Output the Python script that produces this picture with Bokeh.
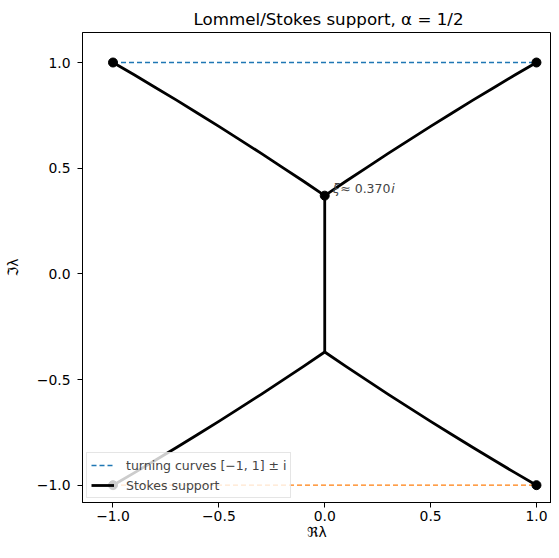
import math
from bokeh.plotting import figure
from bokeh.models import (Range1d, Legend, LegendItem, FixedTicker, Label,
                          CustomJSTickFormatter)
from bokeh.embed import file_html
from bokeh.resources import INLINE

# ---- data ----
xi_im = 0.370
turn_x = [-1.0, 1.0]
turn_upper_y = [1.0, 1.0]
turn_lower_y = [-1.0, -1.0]

branch_x = [0.0, 0.1, 0.2, 0.3, 0.4, 0.5, 0.6, 0.7, 0.8, 0.9, 1.0]
branch_y = [0.370, 0.438, 0.504, 0.570, 0.634, 0.698, 0.760, 0.822, 0.882, 0.942, 1.0]

stem_x = [0.0, 0.0]
stem_y = [-0.370, 0.370]

pts_x = [-1.0, 1.0, 0.0, -1.0, 1.0]
pts_y = [1.0, 1.0, 0.370, -1.0, -1.0]

ticks = [-1.0, -0.5, 0.0, 0.5, 1.0]

# ---- figure ----
p = figure(width=551, height=542, output_backend="svg", toolbar_location=None,
           x_range=Range1d(-1.144, 1.071), y_range=Range1d(-1.082, 1.142),
           min_border_left=82, min_border_right=0, min_border_top=32,
           min_border_bottom=40,
           title="Lommel/Stokes support, α = 1/2")
p.background_fill_color = "white"
p.border_fill_color = "white"
p.outline_line_color = "black"
p.outline_line_width = 1
p.xgrid.visible = False
p.ygrid.visible = False

p.title.align = "left"
p.title.offset = 111
p.title.standoff = 7
p.title.text_font = "DejaVu Sans"
p.title.text_font_size = "16.7px"
p.title.text_font_style = "normal"
p.title.text_color = "black"

fmt = CustomJSTickFormatter(code="return tick.toFixed(1).replace('-', '\\u2212');")
for ax in (p.xaxis[0], p.yaxis[0]):
    ax.ticker = FixedTicker(ticks=ticks)
    ax.formatter = fmt
    ax.major_label_text_font = "DejaVu Sans"
    ax.major_label_text_font_size = "13.9px"
    ax.major_label_text_color = "black"
    ax.major_tick_in = 0
    ax.major_tick_out = 5
    ax.minor_tick_line_color = None
    ax.axis_line_color = "black"
    ax.major_tick_line_color = "black"
    ax.axis_label_text_font = "DejaVu Sans"
    ax.axis_label_text_font_size = "13.9px"
    ax.axis_label_text_font_style = "normal"
    ax.axis_label_text_color = "black"
p.xaxis[0].major_label_standoff = 3
p.yaxis[0].major_label_standoff = 7
p.xaxis[0].axis_label = "ℜλ"
p.yaxis[0].axis_label = "ℑλ"
p.xaxis[0].axis_label_standoff = 0
p.yaxis[0].axis_label_standoff = 13

# turning curves
blue = p.line(turn_x, turn_upper_y, line_color="#1f77b4", line_width=1.3, line_dash="5 3")
p.line(turn_x, turn_lower_y, line_color="#ff7f0e", line_width=1.3, line_dash="5 3")

# Stokes support
neg_x = [-v for v in branch_x]
neg_y = [-v for v in branch_y]
xs = [branch_x, neg_x, branch_x, neg_x, stem_x]
ys = [branch_y, branch_y, neg_y, neg_y, stem_y]
stokes = p.multi_line(xs=xs, ys=ys, line_color="black", line_width=2.8,
                      line_join="round")

p.scatter(pts_x, pts_y, size=9, color="black")

# annotation xi
p.add_layout(Label(x=0.0, y=xi_im, text="ξ", x_offset=8, y_offset=7,
                   text_font="DejaVu Sans", text_font_style="italic",
                   text_font_size="12.5px", text_baseline="alphabetic"))
p.add_layout(Label(x=0.0, y=xi_im, text="≈ 0.370", x_offset=15.5, y_offset=7,
                   text_font="DejaVu Sans", text_font_size="12.5px",
                   text_baseline="alphabetic"))
p.add_layout(Label(x=0.0, y=xi_im, text="i", x_offset=66.5, y_offset=7,
                   text_font="DejaVu Sans", text_font_style="italic",
                   text_font_size="12.5px", text_baseline="alphabetic"))

legend = Legend(items=[LegendItem(label="turning curves [−1, 1] ± i", renderers=[blue]),
                       LegendItem(label="Stokes support", renderers=[stokes])],
                location="bottom_left")
legend.margin = 4
legend.padding = 4
legend.spacing = 4
legend.glyph_width = 23
legend.glyph_height = 16
legend.label_standoff = 12
legend.label_text_font = "DejaVu Sans"
legend.label_text_font_size = "12.5px"
legend.label_height = 16
legend.background_fill_alpha = 0.8
legend.border_line_color = "#cccccc"
legend.border_line_width = 1
p.add_layout(legend)

open("out.html", "w").write(file_html(p, INLINE))
